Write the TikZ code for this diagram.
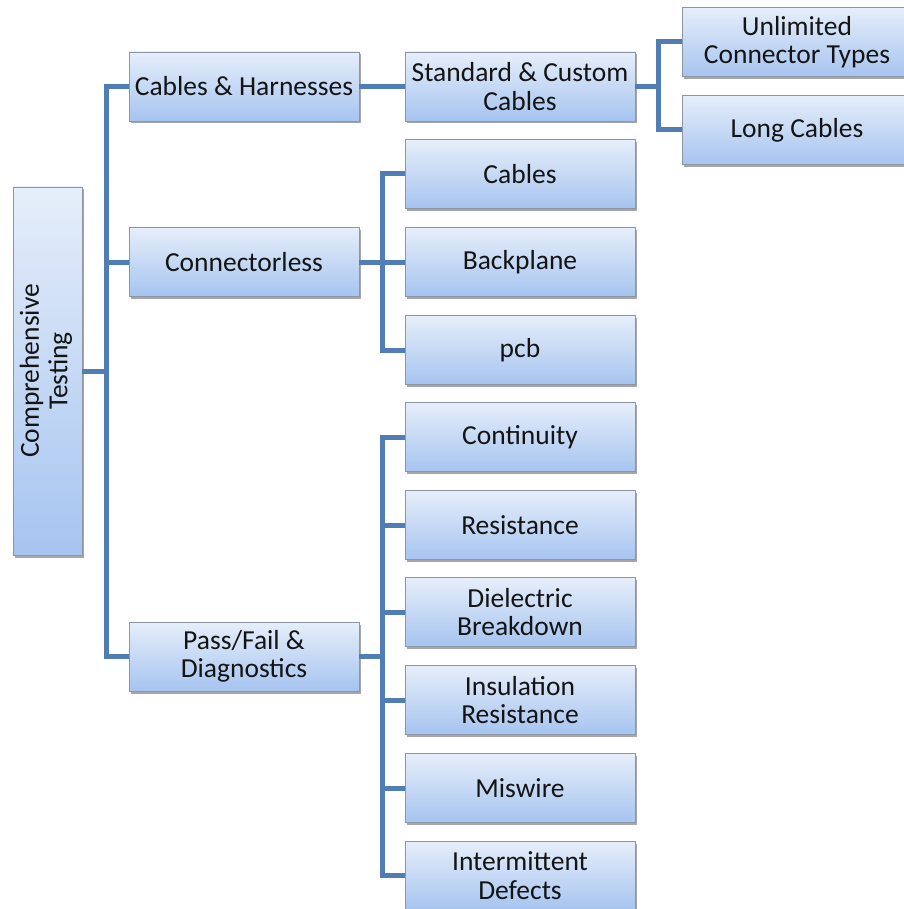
\documentclass[tikz,border=0pt]{standalone}
\usepackage{fontspec}
\setmainfont{Carlito}
\usetikzlibrary{shadows}
\definecolor{linec}{RGB}{80,126,180}
\definecolor{boxtop}{RGB}{230,238,250}
\definecolor{boxbot}{RGB}{166,196,240}
\definecolor{boxedge}{RGB}{140,150,165}
\definecolor{txt}{RGB}{20,20,20}
\begin{document}
\begin{tikzpicture}[x=1pt,y=-1pt,
 box/.style={draw=boxedge, line width=0.8pt, top color=boxtop, bottom color=boxbot,
   drop shadow={shadow xshift=1.5pt, shadow yshift=-2.5pt, opacity=0.35, fill=black},
   align=center, font=\fontsize{27.5}{28.5}\selectfont, text=txt, inner sep=0pt,
   minimum width=230pt, minimum height=69pt},
 conn/.style={draw=linec, line width=5pt, line join=miter}]
\useasboundingbox (0,0) rectangle (903,909);
% level 0
\node[box, minimum width=69pt, minimum height=368pt] (root) at (47.5,371)
  {\rotatebox{90}{\begin{tabular}{@{}c@{}}Comprehensive\\Testing\end{tabular}}};
% level 1
\node[box] (ch) at (244,86.5) {Cables \& Harnesses};
\node[box] (cl) at (244,262) {Connectorless};
\node[box] (pf) at (244,656.5) {Pass/Fail \&\\Diagnostics};
% level 2
\node[box] (sc) at (520,86.5) {Standard \& Custom\\Cables};
\node[box] (ca) at (520,174) {Cables};
\node[box] (bp) at (520,262) {Backplane};
\node[box] (pcb) at (520,350) {pcb};
\node[box] (co) at (520,437) {Continuity};
\node[box] (re) at (520,525) {Resistance};
\node[box] (db) at (520,612) {Dielectric\\Breakdown};
\node[box] (ir) at (520,700) {Insulation\\Resistance};
\node[box] (mw) at (520,788) {Miswire};
\node[box] (id) at (520,875.5) {Intermittent\\Defects};
% level 3
\node[box] (uc) at (797,42) {Unlimited\\Connector Types};
\node[box] (lc) at (797,130) {Long Cables};
% buses
\coordinate (b1) at (106,371);
\coordinate (b2) at (658,86.5);
\coordinate (b3) at (382,262);
\coordinate (b4) at (382,656.5);
\draw[conn] (root.east) -- (b1);
\draw[conn] (ch.west) -| (b1);
\draw[conn] (pf.west) -| (b1);
\draw[conn] (cl.west) -- (b1 |- cl.west);
\draw[conn] (ch.east) -- (sc.west);
\draw[conn] (sc.east) -- (b2);
\draw[conn] (uc.west) -| (b2);
\draw[conn] (lc.west) -| (b2);
\draw[conn] (cl.east) -- (b3);
\draw[conn] (ca.west) -| (b3);
\draw[conn] (pcb.west) -| (b3);
\draw[conn] (bp.west) -- (b3 |- bp.west);
\draw[conn] (pf.east) -- (b4);
\draw[conn] (co.west) -| (b4);
\draw[conn] (id.west) -| (b4);
\foreach \n in {re,db,ir,mw} \draw[conn] (\n.west) -- (b4 |- \n.west);
\end{tikzpicture}
\end{document}
